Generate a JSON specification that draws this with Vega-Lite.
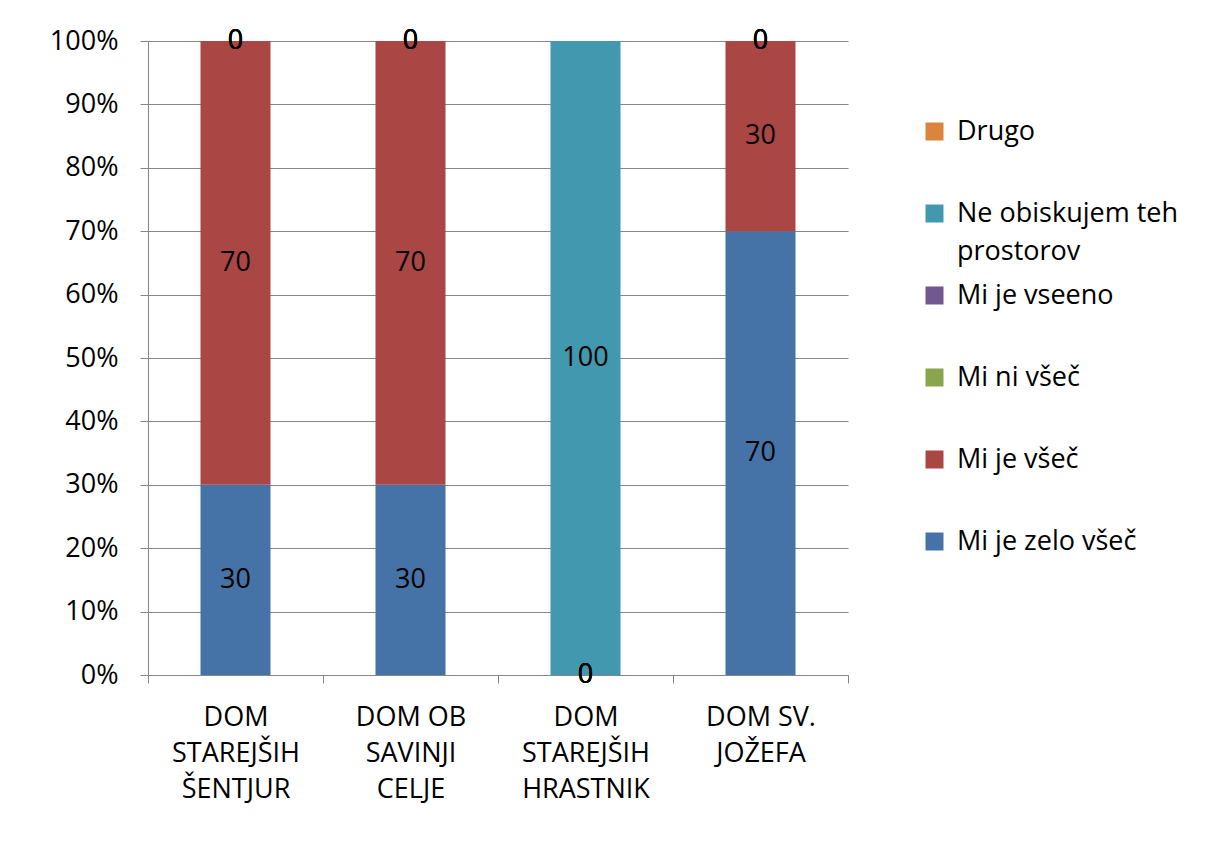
{
  "$schema": "https://vega.github.io/schema/vega-lite/v6.json",
  "width": 700,
  "height": 634,
  "autosize": {"type": "none"},
  "padding": {"left": 148, "top": 41, "right": 361, "bottom": 179},
  "background": "white",
  "config": {"font": "Open Sans", "view": {"stroke": null}},
  "data": {
    "values": [
      {"dom": "DOM STAREJŠIH ŠENTJUR", "odgovor": "Mi je zelo všeč", "v": 30},
      {"dom": "DOM STAREJŠIH ŠENTJUR", "odgovor": "Mi je všeč", "v": 70},
      {"dom": "DOM STAREJŠIH ŠENTJUR", "odgovor": "Mi ni všeč", "v": 0},
      {"dom": "DOM STAREJŠIH ŠENTJUR", "odgovor": "Mi je vseeno", "v": 0},
      {"dom": "DOM STAREJŠIH ŠENTJUR", "odgovor": "Ne obiskujem teh prostorov", "v": 0},
      {"dom": "DOM STAREJŠIH ŠENTJUR", "odgovor": "Drugo", "v": 0},
      {"dom": "DOM OB SAVINJI CELJE", "odgovor": "Mi je zelo všeč", "v": 30},
      {"dom": "DOM OB SAVINJI CELJE", "odgovor": "Mi je všeč", "v": 70},
      {"dom": "DOM OB SAVINJI CELJE", "odgovor": "Mi ni všeč", "v": 0},
      {"dom": "DOM OB SAVINJI CELJE", "odgovor": "Mi je vseeno", "v": 0},
      {"dom": "DOM OB SAVINJI CELJE", "odgovor": "Ne obiskujem teh prostorov", "v": 0},
      {"dom": "DOM OB SAVINJI CELJE", "odgovor": "Drugo", "v": 0},
      {"dom": "DOM STAREJŠIH HRASTNIK", "odgovor": "Mi je zelo všeč", "v": 0},
      {"dom": "DOM STAREJŠIH HRASTNIK", "odgovor": "Mi je všeč", "v": 0},
      {"dom": "DOM STAREJŠIH HRASTNIK", "odgovor": "Mi ni všeč", "v": 0},
      {"dom": "DOM STAREJŠIH HRASTNIK", "odgovor": "Mi je vseeno", "v": 0},
      {"dom": "DOM STAREJŠIH HRASTNIK", "odgovor": "Ne obiskujem teh prostorov", "v": 100},
      {"dom": "DOM SV. JOŽEFA", "odgovor": "Mi je zelo všeč", "v": 70},
      {"dom": "DOM SV. JOŽEFA", "odgovor": "Mi je všeč", "v": 30},
      {"dom": "DOM SV. JOŽEFA", "odgovor": "Mi ni všeč", "v": 0},
      {"dom": "DOM SV. JOŽEFA", "odgovor": "Mi je vseeno", "v": 0},
      {"dom": "DOM SV. JOŽEFA", "odgovor": "Ne obiskujem teh prostorov", "v": 0},
      {"dom": "DOM SV. JOŽEFA", "odgovor": "Drugo", "v": 0}
    ]
  },
  "transform": [
    {"calculate": "indexof(['Mi je zelo všeč','Mi je všeč','Mi ni všeč','Mi je vseeno','Ne obiskujem teh prostorov','Drugo'], datum.odgovor)", "as": "rank"},
    {"stack": "v", "groupby": ["dom"], "sort": [{"field": "rank", "order": "ascending"}], "offset": "normalize", "as": ["y0", "y1"]},
    {"calculate": "(datum.y0 + datum.y1) / 2", "as": "ym"}
  ],
  "encoding": {
    "x": {
      "field": "dom",
      "type": "nominal",
      "sort": ["DOM STAREJŠIH ŠENTJUR", "DOM OB SAVINJI CELJE", "DOM STAREJŠIH HRASTNIK", "DOM SV. JOŽEFA"],
      "scale": {"paddingInner": 0, "paddingOuter": 0},
      "axis": {
        "title": null,
        "labelAngle": 0,
        "labelFontSize": 27,
        "labelColor": "black",
        "labelLineHeight": 36,
        "labelPadding": 21,
        "labelBaseline": "top",
        "tickBand": "extent",
        "tickSize": 8,
        "tickColor": "#868686",
        "domainColor": "#868686",
        "grid": false,
        "labelExpr": "datum.value == 'DOM STAREJŠIH ŠENTJUR' ? ['DOM', 'STAREJŠIH', 'ŠENTJUR'] : datum.value == 'DOM OB SAVINJI CELJE' ? ['DOM OB', 'SAVINJI', 'CELJE'] : datum.value == 'DOM STAREJŠIH HRASTNIK' ? ['DOM', 'STAREJŠIH', 'HRASTNIK'] : datum.value == 'DOM SV. JOŽEFA' ? ['DOM SV.', 'JOŽEFA'] : ''"
      }
    }
  },
  "layer": [
    {
      "mark": {"type": "bar", "width": {"band": 0.4}},
      "encoding": {
        "y": {
          "field": "y0",
          "type": "quantitative",
          "scale": {"domain": [0, 1]},
          "axis": {
            "title": null,
            "format": ".0%",
            "values": [0, 0.1, 0.2, 0.3, 0.4, 0.5, 0.6, 0.7, 0.8, 0.9, 1],
            "labelFontSize": 27,
            "labelColor": "black",
            "labelPadding": 22,
            "tickSize": 8,
            "tickColor": "#868686",
            "domainColor": "#868686",
            "gridColor": "#868686",
            "grid": true
          }
        },
        "y2": {"field": "y1"},
        "color": {
          "field": "odgovor",
          "type": "nominal",
          "scale": {
            "domain": ["Drugo", "Ne obiskujem teh prostorov", "Mi je vseeno", "Mi ni všeč", "Mi je všeč", "Mi je zelo všeč"],
            "range": ["#DB843D", "#4198AF", "#71588F", "#89A54E", "#AA4643", "#4572A7"]
          },
          "legend": {
            "title": null,
            "orient": "none",
            "legendX": 773,
            "legendY": 77,
            "symbolType": "square",
            "symbolSize": 324,
            "symbolStrokeWidth": 0,
            "labelFontSize": 27,
            "labelColor": "black",
            "labelOffset": 9,
            "labelLimit": 400,
            "gridAlign": "all",
            "rowPadding": 16,
            "labelExpr": "datum.label == 'Ne obiskujem teh prostorov' ? ['Ne obiskujem teh', 'prostorov'] : datum.label",
            "encode": {"labels": {"update": {"lineHeight": {"value": 38}}}}
          }
        }
      }
    },
    {
      "mark": {"type": "text", "fontSize": 27, "color": "black"},
      "encoding": {
        "y": {"field": "ym", "type": "quantitative"},
        "text": {"field": "v", "type": "quantitative"}
      }
    }
  ]
}
